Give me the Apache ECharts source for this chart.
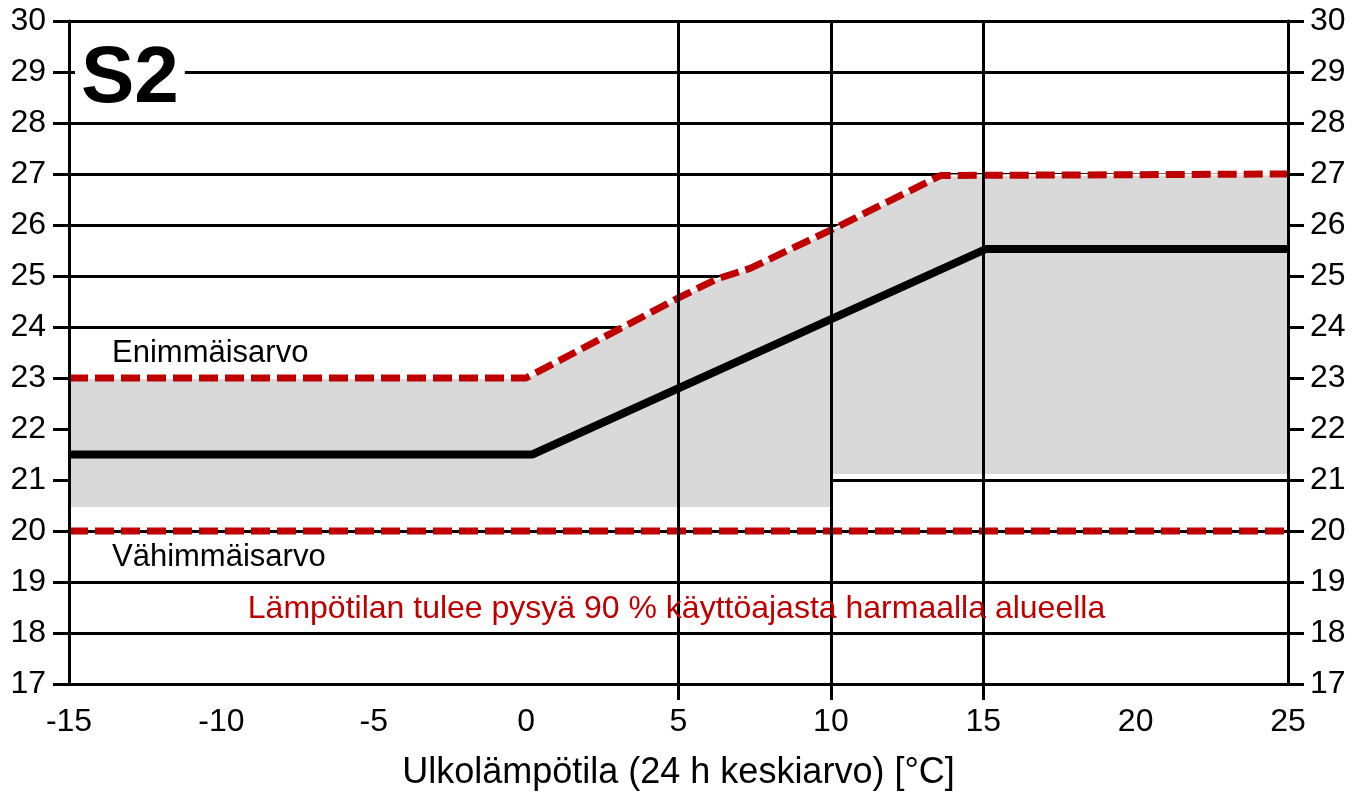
<!DOCTYPE html>
<html>
<head>
<meta charset="utf-8">
<script src="https://cdn.jsdelivr.net/npm/echarts@6/dist/echarts.min.js"></script>
<style>
html,body{margin:0;padding:0;background:#fff;}
#chart{width:1353px;height:797px;}
</style>
</head>
<body>
<div id="chart"></div>
<script>
// ---- data ----
const upperX = [-15, 0, 5, 6.25, 7.35, 10.1, 13.6, 25];
const upperY = [23, 23, 24.57, 24.94, 25.15, 25.93, 26.97, 27];
const setpointX = [-15, 0.2, 15.1, 25];
const setpointY = [21.5, 21.5, 25.53, 25.53];
const minLimitX = [-15, 25];
const minLimitY = [20, 20];
const bandLowerX = [25, 10, 10, -15];
const bandLowerY = [21.1, 21.1, 20.45, 20.45];
const verticalGridX = [5, 10, 15];
const xLabelValues = [-15, -10, -5, 0, 5, 10, 15, 20, 25];

const FONT = "'Liberation Sans', Arial, sans-serif";
const zip = (xs, ys) => xs.map((x, i) => [x, ys[i]]);

const chart = echarts.init(document.getElementById('chart'), null, {renderer: 'canvas'});

const AXIS_LINE = {show: true, onZero: false, lineStyle: {color: '#000', width: 3}};
const AXIS_TICK = {show: true, inside: false, length: 16, lineStyle: {color: '#000', width: 3}};
const yBase = {type: 'value', min: 17, max: 30, interval: 1};

const option = {
  animation: false,
  backgroundColor: '#fff',
  grid: {left: 69, right: 65, top: 21, bottom: 113, containLabel: false},
  xAxis: {
    type: 'value', min: -15, max: 25, interval: 5, z: 6,
    axisLine: AXIS_LINE,
    axisTick: Object.assign({}, AXIS_TICK, {customValues: verticalGridX}),
    axisLabel: {show: true, customValues: xLabelValues, margin: 22, color: '#000', fontSize: 32, fontFamily: FONT},
    splitLine: {show: false},
    name: 'Ulkolämpötila (24 h keskiarvo) [°C]',
    nameLocation: 'middle', nameGap: 71,
    nameTextStyle: {color: '#000', fontSize: 36, fontFamily: FONT}
  },
  yAxis: [
    // horizontal grid lines (below the grey band)
    Object.assign({}, yBase, {position: 'left', z: 0,
      axisLine: {show: false}, axisTick: {show: false}, axisLabel: {show: false},
      splitLine: {show: true, lineStyle: {color: '#000', width: 3}}}),
    // left frame, ticks and labels (above the band)
    Object.assign({}, yBase, {position: 'left', z: 6,
      axisLine: AXIS_LINE, axisTick: AXIS_TICK,
      axisLabel: {margin: 23, color: '#000', fontSize: 32, fontFamily: FONT},
      splitLine: {show: false}}),
    // right frame, ticks and labels
    Object.assign({}, yBase, {position: 'right', z: 6,
      axisLine: AXIS_LINE, axisTick: AXIS_TICK,
      axisLabel: {margin: 22, color: '#000', fontSize: 32, fontFamily: FONT},
      splitLine: {show: false}})
  ],
  series: [
    {
      name: 'grid-verticals', type: 'line', data: [], z: 1, silent: true,
      markLine: {
        silent: true, symbol: ['none', 'none'], label: {show: false},
        lineStyle: {color: '#000', width: 3, type: 'solid'},
        data: verticalGridX.map(v => ({xAxis: v}))
      }
    },
    {
      name: 'band', type: 'custom', z: 2, silent: true,
      coordinateSystem: 'cartesian2d',
      data: [[0, 20]],
      renderItem: function (params, api) {
        const pts = zip(upperX, upperY).concat(zip(bandLowerX, bandLowerY)).map(p => api.coord(p));
        return {
          type: 'polygon',
          shape: {points: pts},
          style: {fill: '#d9d9d9', stroke: '#ffffff', lineWidth: 2}
        };
      }
    },
    {
      name: 'Enimmäisarvo', type: 'line', z: 4, symbol: 'none',
      data: zip(upperX, upperY),
      lineStyle: {color: '#c00000', width: 7, type: [19, 7], cap: 'butt'}
    },
    {
      name: 'Vähimmäisarvo', type: 'line', z: 4, symbol: 'none',
      data: zip(minLimitX, minLimitY),
      lineStyle: {color: '#c00000', width: 7, type: [19, 7], cap: 'butt'}
    },
    {
      name: 'Tavoite', type: 'line', z: 3, symbol: 'none',
      data: zip(setpointX, setpointY),
      lineStyle: {color: '#000', width: 8, cap: 'butt'}
    }
  ],
  graphic: [
    {
      type: 'text', left: 75, top: 40, z: 10,
      style: {text: 'S2', fill: '#000', font: 'bold 80px ' + FONT,
        backgroundColor: '#fff', padding: [0, 6, 0, 6]}
    },
    {
      type: 'text', left: 112, top: 338, z: 10,
      style: {text: 'Enimmäisarvo', fill: '#000', font: '31px ' + FONT}
    },
    {
      type: 'text', left: 112, top: 542, z: 10,
      style: {text: 'Vähimmäisarvo', fill: '#000', font: '31px ' + FONT}
    },
    {
      type: 'text', left: 'center', top: 593, z: 10,
      style: {text: 'Lämpötilan tulee pysyä 90 % käyttöajasta harmaalla alueella', fill: '#c00000', font: '32px ' + FONT}
    }
  ]
};
chart.setOption(option);
</script>
</body>
</html>
